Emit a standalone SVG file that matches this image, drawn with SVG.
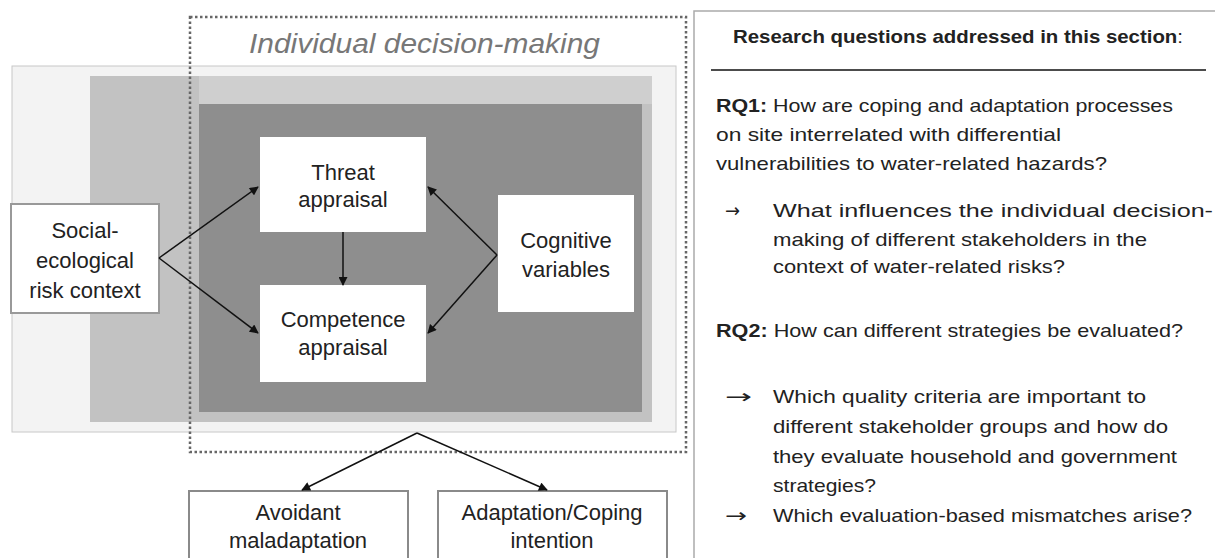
<svg xmlns="http://www.w3.org/2000/svg" width="1215" height="558" viewBox="0 0 1215 558">
<defs>
<marker id="ah" viewBox="0 0 10 10" refX="9" refY="5" markerWidth="10" markerHeight="9" markerUnits="userSpaceOnUse" orient="auto">
<path d="M0,0 L10,5 L0,10 z" fill="#111"/>
</marker>
</defs>
<style>
.t{font-family:"Liberation Sans",Arial,sans-serif;fill:#222;}
.n{font-size:22px;text-anchor:middle;}
.q{font-size:18.5px;}
.b{font-weight:bold;}
.w{fill:#fff;}
.ar{font-family:"DejaVu Sans",sans-serif;font-size:19px;fill:#222;}
.edge{stroke:#111;stroke-width:1.5;fill:none;marker-end:url(#ah);}
</style>
<rect width="1215" height="558" fill="#fff"/>
<g id="context-panel">
<rect x="12" y="66" width="664" height="366" fill="#f3f3f3" stroke="#c8c8c8" stroke-width="1"/>
<rect x="90" y="76" width="562" height="346" fill="#c2c2c2"/>
<rect x="199" y="76" width="453" height="28" fill="#cfcfcf"/>
<rect x="199" y="104" width="443" height="308" fill="#8e8e8e"/>
</g>
<g id="decision-frame">
<rect x="190" y="17" width="496" height="435" fill="none" stroke="#666" stroke-width="2.5" stroke-dasharray="2.5,2.5"/>
<text class="t" x="249" y="53" font-size="28" font-style="italic" textLength="351" lengthAdjust="spacingAndGlyphs" style="fill:#777">Individual decision-making</text>
</g>
<g id="threat">
<rect x="260" y="137" width="166" height="95" class="w"/>
<text class="t n" x="343" y="180">Threat</text>
<text class="t n" x="343" y="207">appraisal</text>
</g>
<g id="competence">
<rect x="260" y="285" width="166" height="97" class="w"/>
<text class="t n" x="343" y="327">Competence</text>
<text class="t n" x="343" y="355">appraisal</text>
</g>
<g id="cognitive">
<rect x="498" y="195" width="136" height="117" class="w"/>
<text class="t n" x="566" y="248">Cognitive</text>
<text class="t n" x="566" y="277">variables</text>
</g>
<g id="social">
<rect x="11" y="204" width="148" height="109" fill="#fff" stroke="#999" stroke-width="2"/>
<text class="t n" x="85" y="238">Social-</text>
<text class="t n" x="85" y="268">ecological</text>
<text class="t n" x="85" y="298">risk context</text>
</g>
<g id="avoidant">
<rect x="189" y="491" width="219" height="72" fill="#fff" stroke="#8a8a8a" stroke-width="2"/>
<text class="t n" x="298" y="520">Avoidant</text>
<text class="t n" x="298" y="548">maladaptation</text>
</g>
<g id="adaptation">
<rect x="438" y="491" width="229" height="72" fill="#fff" stroke="#8a8a8a" stroke-width="2"/>
<text class="t n" x="552" y="520">Adaptation/Coping</text>
<text class="t n" x="552" y="548">intention</text>
</g>
<g id="connectors">
<line class="edge" x1="159" y1="258" x2="258" y2="187"/>
<line class="edge" x1="159" y1="258" x2="258" y2="333"/>
<line class="edge" x1="497" y1="255" x2="428" y2="187"/>
<line class="edge" x1="497" y1="255" x2="428" y2="333"/>
<line class="edge" x1="343" y1="232" x2="343" y2="285"/>
<line class="edge" x1="417" y1="433" x2="302" y2="490"/>
<line class="edge" x1="417" y1="433" x2="547" y2="490"/>
</g>
<g id="questions">
<path d="M694,558 V11 H1215" fill="none" stroke="#aaa" stroke-width="1.5"/>
<line x1="711" y1="70" x2="1206" y2="70" stroke="#111" stroke-width="1.5"/>
<text class="t q b" x="733" y="43" textLength="450" lengthAdjust="spacingAndGlyphs">Research questions addressed in this section<tspan font-weight="normal">:</tspan></text>
<text class="t q" x="716" y="112" textLength="457" lengthAdjust="spacingAndGlyphs"><tspan class="b">RQ1:</tspan> How are coping and adaptation processes</text>
<text class="t q" x="716" y="141" textLength="345" lengthAdjust="spacingAndGlyphs">on site interrelated with differential</text>
<text class="t q" x="716" y="170" textLength="391" lengthAdjust="spacingAndGlyphs">vulnerabilities to water-related hazards?</text>
<text class="ar" x="725" y="217" textLength="15" lengthAdjust="spacingAndGlyphs">→</text>
<text class="t q" x="773" y="217" textLength="440" lengthAdjust="spacingAndGlyphs">What influences the individual decision-</text>
<text class="t q" x="773" y="246" textLength="374" lengthAdjust="spacingAndGlyphs">making of different stakeholders in the</text>
<text class="t q" x="773" y="273" textLength="292" lengthAdjust="spacingAndGlyphs">context of water-related risks?</text>
<text class="t q" x="716" y="337" textLength="467" lengthAdjust="spacingAndGlyphs"><tspan class="b">RQ2:</tspan> How can different strategies be evaluated?</text>
<text class="ar" x="725" y="403" textLength="27" lengthAdjust="spacingAndGlyphs">→</text>
<text class="t q" x="773" y="403" textLength="373" lengthAdjust="spacingAndGlyphs">Which quality criteria are important to</text>
<text class="t q" x="773" y="433" textLength="395" lengthAdjust="spacingAndGlyphs">different stakeholder groups and how do</text>
<text class="t q" x="773" y="463" textLength="404" lengthAdjust="spacingAndGlyphs">they evaluate household and government</text>
<text class="t q" x="773" y="492" textLength="103" lengthAdjust="spacingAndGlyphs">strategies?</text>
<text class="ar" x="725" y="522" textLength="22" lengthAdjust="spacingAndGlyphs">→</text>
<text class="t q" x="773" y="522" textLength="419" lengthAdjust="spacingAndGlyphs">Which evaluation-based mismatches arise?</text>
</g>
</svg>
